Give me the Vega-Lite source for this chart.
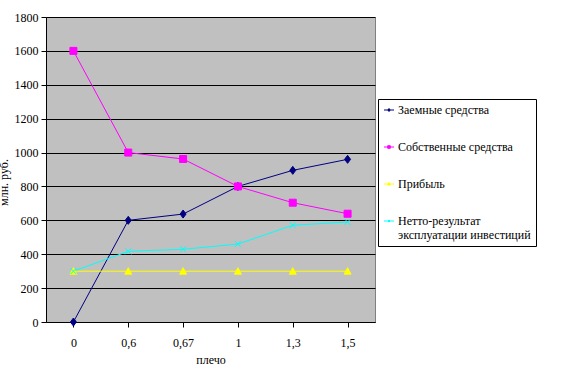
{
  "$schema": "https://vega.github.io/schema/vega-lite/v6.json",
  "width": 329,
  "height": 305,
  "autosize": {"type": "none"},
  "padding": {"left": 46, "top": 17, "right": 190, "bottom": 51},
  "background": "white",
  "config": {
    "font": "Liberation Serif",
    "style": {
      "guide-label": {"font": "Liberation Serif", "fontSize": 12, "fill": "black"},
      "guide-title": {"font": "Liberation Serif", "fontSize": 12, "fill": "black", "fontWeight": "normal"}
    },
    "view": {"fill": "#C0C0C0", "stroke": "#808080", "strokeWidth": 1},
    "axis": {
      "labelFont": "Liberation Serif",
      "labelFontSize": 12,
      "labelColor": "black",
      "titleFont": "Liberation Serif",
      "titleFontSize": 12,
      "titleFontWeight": "normal",
      "titleColor": "black",
      "tickColor": "black",
      "tickSize": 5,
      "domainColor": "black",
      "gridColor": "black",
      "gridOpacity": 1,
      "gridWidth": 1
    },
    "legend": {
      "labelFont": "Liberation Serif",
      "labelFontSize": 12,
      "labelColor": "black",
      "strokeColor": "black",
      "fillColor": "white",
      "symbolStrokeWidth": 1,
      "labelLimit": 200
    }
  },
  "data": {
    "values": [
      {"x": "0", "series": "Заемные средства", "value": 0},
      {"x": "0,6", "series": "Заемные средства", "value": 600},
      {"x": "0,67", "series": "Заемные средства", "value": 637},
      {"x": "1", "series": "Заемные средства", "value": 800},
      {"x": "1,3", "series": "Заемные средства", "value": 895},
      {"x": "1,5", "series": "Заемные средства", "value": 960},
      {"x": "0", "series": "Собственные средства", "value": 1600},
      {"x": "0,6", "series": "Собственные средства", "value": 1000},
      {"x": "0,67", "series": "Собственные средства", "value": 962},
      {"x": "1", "series": "Собственные средства", "value": 800},
      {"x": "1,3", "series": "Собственные средства", "value": 704},
      {"x": "1,5", "series": "Собственные средства", "value": 639},
      {"x": "0", "series": "Прибыль", "value": 300},
      {"x": "0,6", "series": "Прибыль", "value": 300},
      {"x": "0,67", "series": "Прибыль", "value": 300},
      {"x": "1", "series": "Прибыль", "value": 300},
      {"x": "1,3", "series": "Прибыль", "value": 300},
      {"x": "1,5", "series": "Прибыль", "value": 300},
      {"x": "0", "series": "Нетто-результат эксплуатации инвестиций", "value": 300},
      {"x": "0,6", "series": "Нетто-результат эксплуатации инвестиций", "value": 417},
      {"x": "0,67", "series": "Нетто-результат эксплуатации инвестиций", "value": 429},
      {"x": "1", "series": "Нетто-результат эксплуатации инвестиций", "value": 460},
      {"x": "1,3", "series": "Нетто-результат эксплуатации инвестиций", "value": 571},
      {"x": "1,5", "series": "Нетто-результат эксплуатации инвестиций", "value": 590}
    ]
  },
  "encoding": {
    "x": {
      "field": "x",
      "type": "ordinal",
      "sort": ["0", "0,6", "0,67", "1", "1,3", "1,5"],
      "scale": {"paddingInner": 0, "paddingOuter": 0},
      "axis": {
        "title": "плечо",
        "labelAngle": 0,
        "bandPosition": 0,
        "labelPadding": 10,
        "titlePadding": 6,
        "grid": false,
        "labelFont": "Liberation Serif",
        "titleFont": "Liberation Serif"
      }
    },
    "y": {
      "field": "value",
      "type": "quantitative",
      "scale": {"domain": [0, 1800], "nice": false},
      "axis": {
        "values": [0, 200, 400, 600, 800, 1000, 1200, 1400, 1600, 1800],
        "format": "d",
        "title": "млн. руб.",
        "grid": true,
        "labelPadding": 3,
        "labelFont": "Liberation Serif",
        "titleFont": "Liberation Serif",
        "titleAngle": -90,
        "titleX": -39,
        "titleY": 165,
        "titleAlign": "center",
        "titleBaseline": "alphabetic"
      }
    }
  },
  "resolve": {"scale": {"shape": "independent", "fill": "independent", "stroke": "independent"}},
  "layer": [
    {
      "mark": {"type": "line", "strokeWidth": 1},
      "encoding": {
        "color": {
          "field": "series",
          "type": "nominal",
          "scale": {
            "domain": ["Заемные средства", "Собственные средства", "Прибыль", "Нетто-результат эксплуатации инвестиций"],
            "range": ["#000080", "#FF00FF", "#FFFF00", "#00FFFF"]
          },
          "legend": null
        }
      }
    },
    {
      "mark": {"type": "point", "filled": true, "opacity": 1, "size": 100, "strokeWidth": 1},
      "encoding": {
        "fill": {
          "field": "series",
          "type": "nominal",
          "scale": {
            "domain": ["Заемные средства", "Собственные средства", "Прибыль", "Нетто-результат эксплуатации инвестиций"],
            "range": ["#000080", "#FF00FF", "#FFFF00", "#00FFFF"]
          },
          "legend": null
        },
        "stroke": {
          "field": "series",
          "type": "nominal",
          "scale": {
            "domain": ["Заемные средства", "Собственные средства", "Прибыль", "Нетто-результат эксплуатации инвестиций"],
            "range": ["#000080", "#FF00FF", "#FFFF00", "#00FFFF"]
          },
          "legend": null
        },
        "shape": {
          "field": "series",
          "type": "nominal",
          "scale": {
            "domain": ["Заемные средства", "Собственные средства", "Прибыль", "Нетто-результат эксплуатации инвестиций"],
            "range": [
              "M0,-0.8L0.6,0L0,0.8L-0.6,0Z",
              "M-0.7,-0.7H0.7V0.7H-0.7Z",
              "M0,-0.7L0.7,0.6H-0.7Z",
              "M-0.6,-0.6L0.6,0.6M-0.6,0.6L0.6,-0.6"
            ]
          },
          "legend": null
        }
      }
    },
    {
      "transform": [{"filter": "datum.value < -1"}],
      "mark": {"type": "point", "filled": true, "opacity": 1, "size": 729, "strokeWidth": 1},
      "encoding": {
        "fill": {
          "field": "series",
          "type": "nominal",
          "scale": {
            "domain": ["Заемные средства", "Собственные средства", "Прибыль", "Нетто-результат эксплуатации инвестиций"],
            "range": ["#000080", "#FF00FF", "#FFFF00", "#00FFFF"]
          },
          "legend": {
            "title": null,
            "orient": "none",
            "legendX": 332,
            "legendY": 82,
            "padding": 5,
            "rowPadding": 25,
            "labelOffset": 3,
            "labelFont": "Liberation Serif",
            "labelExpr": "datum.label == 'Нетто-результат эксплуатации инвестиций' ? ['Нетто-результат', 'эксплуатации инвестиций'] : datum.label"
          }
        },
        "stroke": {
          "field": "series",
          "type": "nominal",
          "scale": {
            "domain": ["Заемные средства", "Собственные средства", "Прибыль", "Нетто-результат эксплуатации инвестиций"],
            "range": ["#000080", "#FF00FF", "#FFFF00", "#00FFFF"]
          },
          "legend": {
            "title": null,
            "orient": "none",
            "legendX": 332,
            "legendY": 82,
            "padding": 5,
            "rowPadding": 25,
            "labelOffset": 3,
            "labelFont": "Liberation Serif",
            "labelExpr": "datum.label == 'Нетто-результат эксплуатации инвестиций' ? ['Нетто-результат', 'эксплуатации инвестиций'] : datum.label"
          }
        },
        "shape": {
          "field": "series",
          "type": "nominal",
          "scale": {
            "domain": ["Заемные средства", "Собственные средства", "Прибыль", "Нетто-результат эксплуатации инвестиций"],
            "range": [
              "M-1,0H1M0,-0.3L0.22,0L0,0.3L-0.22,0Z",
              "M-1,0H1M-0.26,-0.26H0.26V0.26H-0.26Z",
              "M-1,0H1M0,-0.28L0.28,0.22H-0.28Z",
              "M-1,0H1M-0.2,-0.2L0.2,0.2M-0.2,0.2L0.2,-0.2"
            ]
          },
          "legend": {
            "title": null,
            "orient": "none",
            "legendX": 332,
            "legendY": 82,
            "padding": 5,
            "rowPadding": 25,
            "labelOffset": 3,
            "labelFont": "Liberation Serif",
            "labelExpr": "datum.label == 'Нетто-результат эксплуатации инвестиций' ? ['Нетто-результат', 'эксплуатации инвестиций'] : datum.label"
          }
        }
      }
    }
  ]
}
